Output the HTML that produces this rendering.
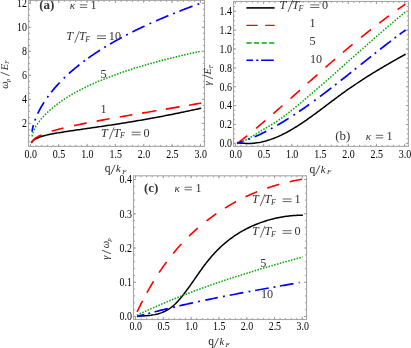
<!DOCTYPE html>
<html><head><meta charset="utf-8"><title>fig</title>
<style>html,body{margin:0;padding:0;background:#fff;}svg{display:block;}text{font-family:"Liberation Serif",serif;}.i{font-style:italic}</style></head><body>
<svg width="411" height="348" viewBox="0 0 411 348" style="will-change:transform">
<rect width="411" height="348" fill="#fff"/>
<g fill="none" stroke="#a8a8a8" stroke-width="1.1">
<rect x="28.5" y="0.4" width="176.00" height="146.00"/>
<path stroke="#9a9a9a" stroke-width="0.9" d="M30.40,146.4v-1.6M30.40,0.4v1.6M36.07,146.4v-1.6M36.07,0.4v1.6M41.73,146.4v-1.6M41.73,0.4v1.6M47.40,146.4v-1.6M47.40,0.4v1.6M53.07,146.4v-1.6M53.07,0.4v1.6M58.73,146.4v-1.6M58.73,0.4v1.6M64.40,146.4v-1.6M64.40,0.4v1.6M70.07,146.4v-1.6M70.07,0.4v1.6M75.74,146.4v-1.6M75.74,0.4v1.6M81.40,146.4v-1.6M81.40,0.4v1.6M87.07,146.4v-1.6M87.07,0.4v1.6M92.74,146.4v-1.6M92.74,0.4v1.6M98.40,146.4v-1.6M98.40,0.4v1.6M104.07,146.4v-1.6M104.07,0.4v1.6M109.74,146.4v-1.6M109.74,0.4v1.6M115.41,146.4v-1.6M115.41,0.4v1.6M121.07,146.4v-1.6M121.07,0.4v1.6M126.74,146.4v-1.6M126.74,0.4v1.6M132.41,146.4v-1.6M132.41,0.4v1.6M138.07,146.4v-1.6M138.07,0.4v1.6M143.74,146.4v-1.6M143.74,0.4v1.6M149.41,146.4v-1.6M149.41,0.4v1.6M155.07,146.4v-1.6M155.07,0.4v1.6M160.74,146.4v-1.6M160.74,0.4v1.6M166.41,146.4v-1.6M166.41,0.4v1.6M172.08,146.4v-1.6M172.08,0.4v1.6M177.74,146.4v-1.6M177.74,0.4v1.6M183.41,146.4v-1.6M183.41,0.4v1.6M189.08,146.4v-1.6M189.08,0.4v1.6M194.74,146.4v-1.6M194.74,0.4v1.6M200.41,146.4v-1.6M200.41,0.4v1.6M30.40,146.4v-2.6M30.40,0.4v2.6M58.73,146.4v-2.6M58.73,0.4v2.6M87.07,146.4v-2.6M87.07,0.4v2.6M115.41,146.4v-2.6M115.41,0.4v2.6M143.74,146.4v-2.6M143.74,0.4v2.6M172.08,146.4v-2.6M172.08,0.4v2.6M200.41,146.4v-2.6M200.41,0.4v2.6M28.5,141.40h1.6M204.5,141.40h-1.6M28.5,135.39h1.6M204.5,135.39h-1.6M28.5,129.38h1.6M204.5,129.38h-1.6M28.5,123.38h1.6M204.5,123.38h-1.6M28.5,117.38h1.6M204.5,117.38h-1.6M28.5,111.37h1.6M204.5,111.37h-1.6M28.5,105.37h1.6M204.5,105.37h-1.6M28.5,99.36h1.6M204.5,99.36h-1.6M28.5,93.36h1.6M204.5,93.36h-1.6M28.5,87.35h1.6M204.5,87.35h-1.6M28.5,81.35h1.6M204.5,81.35h-1.6M28.5,75.34h1.6M204.5,75.34h-1.6M28.5,69.34h1.6M204.5,69.34h-1.6M28.5,63.33h1.6M204.5,63.33h-1.6M28.5,57.33h1.6M204.5,57.33h-1.6M28.5,51.32h1.6M204.5,51.32h-1.6M28.5,45.32h1.6M204.5,45.32h-1.6M28.5,39.31h1.6M204.5,39.31h-1.6M28.5,33.31h1.6M204.5,33.31h-1.6M28.5,27.30h1.6M204.5,27.30h-1.6M28.5,21.30h1.6M204.5,21.30h-1.6M28.5,15.29h1.6M204.5,15.29h-1.6M28.5,9.28h1.6M204.5,9.28h-1.6M28.5,3.28h1.6M204.5,3.28h-1.6M28.5,123.38h2.6M204.5,123.38h-2.6M28.5,99.36h2.6M204.5,99.36h-2.6M28.5,75.34h2.6M204.5,75.34h-2.6M28.5,51.32h2.6M204.5,51.32h-2.6M28.5,27.30h2.6M204.5,27.30h-2.6M28.5,3.28h2.6M204.5,3.28h-2.6"/>
</g>
<g font-size="11.6" fill="#000">
<text transform="translate(30.70,157.90) scale(0.86,1)" text-anchor="middle">0.0</text>
<text transform="translate(59.03,157.90) scale(0.86,1)" text-anchor="middle">0.5</text>
<text transform="translate(87.37,157.90) scale(0.86,1)" text-anchor="middle">1.0</text>
<text transform="translate(115.70,157.90) scale(0.86,1)" text-anchor="middle">1.5</text>
<text transform="translate(144.04,157.90) scale(0.86,1)" text-anchor="middle">2.0</text>
<text transform="translate(172.38,157.90) scale(0.86,1)" text-anchor="middle">2.5</text>
<text transform="translate(200.71,157.90) scale(0.86,1)" text-anchor="middle">3.0</text>
<text transform="translate(26.90,127.28) scale(0.86,1)" text-anchor="end">2</text>
<text transform="translate(26.90,103.26) scale(0.86,1)" text-anchor="end">4</text>
<text transform="translate(26.90,79.24) scale(0.86,1)" text-anchor="end">6</text>
<text transform="translate(26.90,55.22) scale(0.86,1)" text-anchor="end">8</text>
<text transform="translate(26.90,31.20) scale(0.86,1)" text-anchor="end">10</text>
<text transform="translate(26.90,7.18) scale(0.86,1)" text-anchor="end">12</text>
</g>
<g fill="none" stroke="#a8a8a8" stroke-width="1.1">
<rect x="233.5" y="1.45" width="174.90" height="144.95"/>
<path stroke="#9a9a9a" stroke-width="0.9" d="M235.40,146.4v-1.6M235.40,1.45v1.6M241.04,146.4v-1.6M241.04,1.45v1.6M246.69,146.4v-1.6M246.69,1.45v1.6M252.33,146.4v-1.6M252.33,1.45v1.6M257.97,146.4v-1.6M257.97,1.45v1.6M263.62,146.4v-1.6M263.62,1.45v1.6M269.26,146.4v-1.6M269.26,1.45v1.6M274.90,146.4v-1.6M274.90,1.45v1.6M280.54,146.4v-1.6M280.54,1.45v1.6M286.19,146.4v-1.6M286.19,1.45v1.6M291.83,146.4v-1.6M291.83,1.45v1.6M297.47,146.4v-1.6M297.47,1.45v1.6M303.12,146.4v-1.6M303.12,1.45v1.6M308.76,146.4v-1.6M308.76,1.45v1.6M314.40,146.4v-1.6M314.40,1.45v1.6M320.05,146.4v-1.6M320.05,1.45v1.6M325.69,146.4v-1.6M325.69,1.45v1.6M331.33,146.4v-1.6M331.33,1.45v1.6M336.97,146.4v-1.6M336.97,1.45v1.6M342.62,146.4v-1.6M342.62,1.45v1.6M348.26,146.4v-1.6M348.26,1.45v1.6M353.90,146.4v-1.6M353.90,1.45v1.6M359.55,146.4v-1.6M359.55,1.45v1.6M365.19,146.4v-1.6M365.19,1.45v1.6M370.83,146.4v-1.6M370.83,1.45v1.6M376.48,146.4v-1.6M376.48,1.45v1.6M382.12,146.4v-1.6M382.12,1.45v1.6M387.76,146.4v-1.6M387.76,1.45v1.6M393.40,146.4v-1.6M393.40,1.45v1.6M399.05,146.4v-1.6M399.05,1.45v1.6M404.69,146.4v-1.6M404.69,1.45v1.6M235.40,146.4v-2.6M235.40,1.45v2.6M263.62,146.4v-2.6M263.62,1.45v2.6M291.83,146.4v-2.6M291.83,1.45v2.6M320.05,146.4v-2.6M320.05,1.45v2.6M348.26,146.4v-2.6M348.26,1.45v2.6M376.48,146.4v-2.6M376.48,1.45v2.6M404.69,146.4v-2.6M404.69,1.45v2.6M233.5,143.30h1.6M408.4,143.30h-1.6M233.5,138.59h1.6M408.4,138.59h-1.6M233.5,133.87h1.6M408.4,133.87h-1.6M233.5,129.16h1.6M408.4,129.16h-1.6M233.5,124.44h1.6M408.4,124.44h-1.6M233.5,119.73h1.6M408.4,119.73h-1.6M233.5,115.01h1.6M408.4,115.01h-1.6M233.5,110.30h1.6M408.4,110.30h-1.6M233.5,105.58h1.6M408.4,105.58h-1.6M233.5,100.87h1.6M408.4,100.87h-1.6M233.5,96.15h1.6M408.4,96.15h-1.6M233.5,91.44h1.6M408.4,91.44h-1.6M233.5,86.72h1.6M408.4,86.72h-1.6M233.5,82.01h1.6M408.4,82.01h-1.6M233.5,77.29h1.6M408.4,77.29h-1.6M233.5,72.58h1.6M408.4,72.58h-1.6M233.5,67.86h1.6M408.4,67.86h-1.6M233.5,63.15h1.6M408.4,63.15h-1.6M233.5,58.43h1.6M408.4,58.43h-1.6M233.5,53.72h1.6M408.4,53.72h-1.6M233.5,49.00h1.6M408.4,49.00h-1.6M233.5,44.29h1.6M408.4,44.29h-1.6M233.5,39.57h1.6M408.4,39.57h-1.6M233.5,34.86h1.6M408.4,34.86h-1.6M233.5,30.14h1.6M408.4,30.14h-1.6M233.5,25.43h1.6M408.4,25.43h-1.6M233.5,20.71h1.6M408.4,20.71h-1.6M233.5,16.00h1.6M408.4,16.00h-1.6M233.5,11.28h1.6M408.4,11.28h-1.6M233.5,6.56h1.6M408.4,6.56h-1.6M233.5,143.30h2.6M408.4,143.30h-2.6M233.5,124.44h2.6M408.4,124.44h-2.6M233.5,105.58h2.6M408.4,105.58h-2.6M233.5,86.72h2.6M408.4,86.72h-2.6M233.5,67.86h2.6M408.4,67.86h-2.6M233.5,49.00h2.6M408.4,49.00h-2.6M233.5,30.14h2.6M408.4,30.14h-2.6M233.5,11.28h2.6M408.4,11.28h-2.6"/>
</g>
<g font-size="11.6" fill="#000">
<text transform="translate(235.70,157.90) scale(0.86,1)" text-anchor="middle">0.0</text>
<text transform="translate(263.92,157.90) scale(0.86,1)" text-anchor="middle">0.5</text>
<text transform="translate(292.13,157.90) scale(0.86,1)" text-anchor="middle">1.0</text>
<text transform="translate(320.35,157.90) scale(0.86,1)" text-anchor="middle">1.5</text>
<text transform="translate(348.56,157.90) scale(0.86,1)" text-anchor="middle">2.0</text>
<text transform="translate(376.78,157.90) scale(0.86,1)" text-anchor="middle">2.5</text>
<text transform="translate(404.99,157.90) scale(0.86,1)" text-anchor="middle">3.0</text>
<text transform="translate(231.90,147.20) scale(0.86,1)" text-anchor="end">0.0</text>
<text transform="translate(231.90,128.34) scale(0.86,1)" text-anchor="end">0.2</text>
<text transform="translate(231.90,109.48) scale(0.86,1)" text-anchor="end">0.4</text>
<text transform="translate(231.90,90.62) scale(0.86,1)" text-anchor="end">0.6</text>
<text transform="translate(231.90,71.76) scale(0.86,1)" text-anchor="end">0.8</text>
<text transform="translate(231.90,52.90) scale(0.86,1)" text-anchor="end">1.0</text>
<text transform="translate(231.90,34.04) scale(0.86,1)" text-anchor="end">1.2</text>
<text transform="translate(231.90,15.18) scale(0.86,1)" text-anchor="end">1.4</text>
</g>
<g fill="none" stroke="#a8a8a8" stroke-width="1.1">
<rect x="133.5" y="175.8" width="173.05" height="143.70"/>
<path stroke="#9a9a9a" stroke-width="0.9" d="M135.50,319.5v-1.6M135.50,175.8v1.6M141.06,319.5v-1.6M141.06,175.8v1.6M146.63,319.5v-1.6M146.63,175.8v1.6M152.19,319.5v-1.6M152.19,175.8v1.6M157.75,319.5v-1.6M157.75,175.8v1.6M163.31,319.5v-1.6M163.31,175.8v1.6M168.88,319.5v-1.6M168.88,175.8v1.6M174.44,319.5v-1.6M174.44,175.8v1.6M180.00,319.5v-1.6M180.00,175.8v1.6M185.57,319.5v-1.6M185.57,175.8v1.6M191.13,319.5v-1.6M191.13,175.8v1.6M196.69,319.5v-1.6M196.69,175.8v1.6M202.26,319.5v-1.6M202.26,175.8v1.6M207.82,319.5v-1.6M207.82,175.8v1.6M213.38,319.5v-1.6M213.38,175.8v1.6M218.94,319.5v-1.6M218.94,175.8v1.6M224.51,319.5v-1.6M224.51,175.8v1.6M230.07,319.5v-1.6M230.07,175.8v1.6M235.63,319.5v-1.6M235.63,175.8v1.6M241.20,319.5v-1.6M241.20,175.8v1.6M246.76,319.5v-1.6M246.76,175.8v1.6M252.32,319.5v-1.6M252.32,175.8v1.6M257.89,319.5v-1.6M257.89,175.8v1.6M263.45,319.5v-1.6M263.45,175.8v1.6M269.01,319.5v-1.6M269.01,175.8v1.6M274.58,319.5v-1.6M274.58,175.8v1.6M280.14,319.5v-1.6M280.14,175.8v1.6M285.70,319.5v-1.6M285.70,175.8v1.6M291.26,319.5v-1.6M291.26,175.8v1.6M296.83,319.5v-1.6M296.83,175.8v1.6M302.39,319.5v-1.6M302.39,175.8v1.6M135.50,319.5v-2.6M135.50,175.8v2.6M163.31,319.5v-2.6M163.31,175.8v2.6M191.13,319.5v-2.6M191.13,175.8v2.6M218.94,319.5v-2.6M218.94,175.8v2.6M246.76,319.5v-2.6M246.76,175.8v2.6M274.58,319.5v-2.6M274.58,175.8v2.6M302.39,319.5v-2.6M302.39,175.8v2.6M133.5,316.50h1.6M306.55,316.50h-1.6M133.5,309.65h1.6M306.55,309.65h-1.6M133.5,302.80h1.6M306.55,302.80h-1.6M133.5,295.95h1.6M306.55,295.95h-1.6M133.5,289.10h1.6M306.55,289.10h-1.6M133.5,282.25h1.6M306.55,282.25h-1.6M133.5,275.40h1.6M306.55,275.40h-1.6M133.5,268.55h1.6M306.55,268.55h-1.6M133.5,261.70h1.6M306.55,261.70h-1.6M133.5,254.85h1.6M306.55,254.85h-1.6M133.5,248.00h1.6M306.55,248.00h-1.6M133.5,241.15h1.6M306.55,241.15h-1.6M133.5,234.30h1.6M306.55,234.30h-1.6M133.5,227.45h1.6M306.55,227.45h-1.6M133.5,220.60h1.6M306.55,220.60h-1.6M133.5,213.75h1.6M306.55,213.75h-1.6M133.5,206.90h1.6M306.55,206.90h-1.6M133.5,200.05h1.6M306.55,200.05h-1.6M133.5,193.20h1.6M306.55,193.20h-1.6M133.5,186.35h1.6M306.55,186.35h-1.6M133.5,179.50h1.6M306.55,179.50h-1.6M133.5,316.50h2.6M306.55,316.50h-2.6M133.5,282.25h2.6M306.55,282.25h-2.6M133.5,248.00h2.6M306.55,248.00h-2.6M133.5,213.75h2.6M306.55,213.75h-2.6M133.5,179.50h2.6M306.55,179.50h-2.6"/>
</g>
<g font-size="11.6" fill="#000">
<text transform="translate(135.80,330.40) scale(0.86,1)" text-anchor="middle">0.0</text>
<text transform="translate(163.62,330.40) scale(0.86,1)" text-anchor="middle">0.5</text>
<text transform="translate(191.43,330.40) scale(0.86,1)" text-anchor="middle">1.0</text>
<text transform="translate(219.25,330.40) scale(0.86,1)" text-anchor="middle">1.5</text>
<text transform="translate(247.06,330.40) scale(0.86,1)" text-anchor="middle">2.0</text>
<text transform="translate(274.88,330.40) scale(0.86,1)" text-anchor="middle">2.5</text>
<text transform="translate(302.69,330.40) scale(0.86,1)" text-anchor="middle">3.0</text>
<text transform="translate(131.90,320.40) scale(0.86,1)" text-anchor="end">0.0</text>
<text transform="translate(131.90,286.15) scale(0.86,1)" text-anchor="end">0.1</text>
<text transform="translate(131.90,251.90) scale(0.86,1)" text-anchor="end">0.2</text>
<text transform="translate(131.90,217.65) scale(0.86,1)" text-anchor="end">0.3</text>
<text transform="translate(131.90,183.40) scale(0.86,1)" text-anchor="end">0.4</text>
</g>
<g fill="none">
<path d="M31.40,143.11 31.95,141.98 32.73,140.99 33.63,140.16 34.64,139.43 35.74,138.78 36.88,138.21 38.04,137.70 39.18,137.26 40.41,136.82 41.59,136.45 42.84,136.07 44.01,135.75 45.24,135.43 46.52,135.12 47.86,134.81 49.08,134.55 50.33,134.28 51.64,134.02 52.98,133.76 54.17,133.54 55.39,133.31 56.64,133.09 57.92,132.87 59.23,132.65 60.57,132.43 61.95,132.21 63.35,131.98 64.55,131.79 65.76,131.61 67.00,131.42 68.26,131.23 69.55,131.04 70.85,130.84 72.18,130.65 73.52,130.45 74.89,130.25 76.28,130.05 77.70,129.85 79.13,129.64 80.59,129.43 82.07,129.22 83.27,129.05 84.48,128.88 85.70,128.70 86.94,128.53 88.20,128.35 89.47,128.17 90.75,127.98 92.04,127.80 93.35,127.61 94.68,127.42 96.01,127.22 97.37,127.03 98.73,126.83 100.11,126.63 101.50,126.42 102.91,126.22 104.33,126.01 105.77,125.79 107.22,125.58 108.68,125.36 110.16,125.13 111.65,124.91 113.15,124.68 114.67,124.44 116.20,124.20 117.75,123.96 119.31,123.72 120.88,123.47 122.07,123.28 123.27,123.09 124.48,122.90 125.69,122.70 126.91,122.50 128.14,122.30 129.38,122.10 130.62,121.89 131.87,121.68 133.13,121.47 134.40,121.26 135.68,121.05 136.96,120.83 138.25,120.61 139.55,120.38 140.86,120.16 142.17,119.93 143.50,119.70 144.83,119.46 146.17,119.22 147.51,118.98 148.87,118.74 150.23,118.50 151.60,118.25 152.98,117.99 154.36,117.74 155.76,117.48 157.16,117.22 158.57,116.96 159.98,116.69 161.41,116.42 162.84,116.15 164.28,115.87 165.73,115.59 167.19,115.31 168.65,115.02 170.12,114.73 171.60,114.44 173.09,114.14 174.58,113.84 176.09,113.53 177.60,113.23 179.12,112.92 180.64,112.60 182.18,112.28 183.72,111.96 185.27,111.64 186.83,111.31 188.39,110.98 189.97,110.64 191.55,110.30 193.14,109.95 194.73,109.61 196.34,109.25 197.95,108.90 199.57,108.54 201.20,108.17" stroke="#000" stroke-width="1.5"/>
<path d="M31.40,142.86 31.91,141.74 32.63,140.70 33.44,139.81 34.34,139.00 35.30,138.25 36.39,137.52 37.50,136.86 38.60,136.26 39.78,135.66 40.92,135.13 41.60,134.83M51.70,131.22 52.98,130.84 54.17,130.49 55.39,130.15 56.64,129.80 57.92,129.46 59.23,129.11 60.57,128.77 61.95,128.42 63.11,128.13 63.40,128.06M74.10,125.61 75.45,125.32 76.85,125.03 78.27,124.73 79.71,124.43 81.18,124.13 82.37,123.89 83.57,123.65 84.78,123.40 86.01,123.16 86.60,123.05M96.70,121.11 98.05,120.86 99.42,120.61 100.81,120.35 102.21,120.09 103.62,119.84 105.05,119.58 106.49,119.32 107.95,119.05 109.42,118.79 109.60,118.76M119.70,116.97 120.88,116.77 122.07,116.56 123.27,116.35 124.48,116.14 125.69,115.93 126.91,115.72 128.14,115.51 129.38,115.30 130.62,115.08 131.87,114.87 132.30,114.80M142.10,113.13 143.50,112.89 144.83,112.66 146.17,112.44 147.51,112.21 148.87,111.98 150.23,111.75 151.60,111.52 152.98,111.28 154.36,111.05 155.76,110.81 156.50,110.69M165.80,109.12 167.19,108.89 168.65,108.64 170.12,108.39 171.60,108.14 173.09,107.89 174.58,107.64 176.09,107.38 177.60,107.13 179.12,106.87 179.60,106.79M189.10,105.18 190.49,104.94 192.08,104.68 193.67,104.40 195.27,104.13 196.88,103.86 198.49,103.58 200.11,103.31 201.20,103.12" stroke="#ff0000" stroke-width="1.6"/>
<path transform="scale(0.86,1)" d="M37.21,136.48 37.45,135.43 37.76,134.36 38.09,133.41 38.46,132.45 38.88,131.48 39.35,130.50 39.87,129.51 40.44,128.51 40.97,127.64 41.54,126.76 42.14,125.88 42.78,124.99 43.45,124.10 44.16,123.20 44.91,122.30 45.69,121.39 46.37,120.62 47.07,119.86 47.80,119.09 48.56,118.32 49.34,117.55 50.15,116.77 50.98,115.99 51.83,115.21 52.72,114.43 53.62,113.65 54.55,112.86 55.51,112.08 56.30,111.45 57.10,110.82 57.91,110.18 58.74,109.55 59.59,108.92 60.46,108.29 61.34,107.65 62.24,107.02 63.15,106.39 64.08,105.76 65.02,105.12 65.98,104.49 66.96,103.86 67.96,103.23 68.97,102.60 69.99,101.97 71.03,101.34 72.09,100.71 73.17,100.08 74.26,99.45 75.36,98.83 76.49,98.20 77.63,97.58 78.78,96.95 79.95,96.33 80.84,95.87 81.74,95.41 82.65,94.94 83.56,94.48 84.49,94.02 85.42,93.56 86.37,93.10 87.32,92.64 88.28,92.19 89.25,91.73 90.23,91.27 91.22,90.82 92.22,90.37 93.23,89.92 94.24,89.46 95.27,89.01 96.30,88.56 97.35,88.12 98.40,87.67 99.46,87.22 100.53,86.78 101.61,86.33 102.70,85.89 103.80,85.45 104.90,85.01 106.02,84.57 107.15,84.13 108.28,83.69 109.42,83.25 110.58,82.82 111.74,82.38 112.91,81.95 114.09,81.52 115.28,81.09 116.47,80.65 117.68,80.23 118.90,79.80 120.12,79.37 121.36,78.94 122.60,78.52 123.85,78.09 125.11,77.67 126.38,77.25 127.66,76.83 128.95,76.41 130.25,75.99 131.56,75.57 132.87,75.15 134.20,74.74 135.53,74.32 136.87,73.91 138.23,73.49 139.59,73.08 140.96,72.67 142.34,72.26 143.72,71.85 145.12,71.45 146.53,71.04 147.94,70.64 149.37,70.23 150.80,69.83 152.25,69.43 153.21,69.16 154.18,68.89 155.16,68.63 156.14,68.36 157.12,68.10 158.11,67.83 159.10,67.57 160.09,67.30 161.09,67.04 162.10,66.78 163.10,66.52 164.12,66.25 165.13,65.99 166.15,65.73 167.17,65.47 168.20,65.21 169.23,64.95 170.27,64.69 171.31,64.44 172.35,64.18 173.40,63.92 174.45,63.66 175.51,63.41 176.57,63.15 177.63,62.90 178.70,62.64 179.77,62.39 180.85,62.13 181.93,61.88 183.01,61.63 184.10,61.38 185.19,61.12 186.29,60.87 187.39,60.62 188.49,60.37 189.60,60.12 190.71,59.87 191.83,59.62 192.95,59.38 194.07,59.13 195.20,58.88 196.33,58.64 197.47,58.39 198.61,58.14 199.75,57.90 200.90,57.66 202.06,57.41 203.21,57.17 204.37,56.92 205.54,56.68 206.71,56.44 207.88,56.20 209.06,55.96 210.24,55.72 211.42,55.48 212.61,55.24 213.80,55.00 215.00,54.76 216.20,54.53 217.41,54.29 218.62,54.05 219.83,53.82 221.05,53.58 222.27,53.35 223.49,53.11 224.72,52.88 225.96,52.64 227.19,52.41 228.43,52.18 229.68,51.95 230.93,51.72 232.18,51.49 233.44,51.26 234.07,51.14" stroke="#00aa00" stroke-width="1.55" stroke-dasharray="1.75 1.6"/>
<path d="M32.01,131.60 32.20,130.40 32.45,129.09 32.74,127.74 33.02,126.58 33.33,125.39 33.41,125.10M37.72,113.70 38.25,112.59 38.79,111.49 39.36,110.39 39.95,109.27 40.55,108.16 41.19,107.03 41.84,105.91 42.51,104.77 43.21,103.64 43.92,102.50 44.11,102.20M51.20,92.29 52.08,91.19 53.03,90.03 53.80,89.10 54.59,88.17 55.39,87.25 56.21,86.32 57.04,85.39 57.88,84.47 58.74,83.54 59.61,82.62 59.70,82.52M68.90,73.57 69.83,72.74 70.86,71.83 71.91,70.91 72.96,70.00 74.04,69.09 75.12,68.19 76.22,67.28 77.34,66.37 78.47,65.47 79.40,64.73M88.20,58.13 89.23,57.40 90.50,56.51 91.78,55.62 93.07,54.74 94.38,53.86 95.70,52.97 97.03,52.10 98.04,51.44 99.06,50.78 100.00,50.18M110.00,44.07 111.12,43.41 112.24,42.77 113.36,42.12 114.49,41.48 115.62,40.84 116.76,40.20 117.92,39.56 119.07,38.93 120.24,38.29 121.41,37.66 121.90,37.39M132.40,31.95 133.58,31.36 134.84,30.74 136.11,30.11 137.38,29.49 138.66,28.87 139.95,28.25 141.25,27.63 142.56,27.01 143.87,26.40 144.50,26.10M156.10,20.85 157.43,20.27 158.83,19.67 160.23,19.06 161.65,18.46 163.07,17.85 164.50,17.25 165.93,16.65 167.38,16.04 168.40,15.62M179.40,11.19 180.73,10.67 182.25,10.07 183.78,9.48 185.32,8.89 186.86,8.30 188.41,7.71 189.97,7.12 191.54,6.53 192.50,6.17M34.89,120.49 35.56,118.71M47.24,97.57 48.35,96.03M63.72,78.44 65.08,77.12M83.44,61.62 84.96,60.49M104.29,47.49 105.91,46.50M126.16,35.14 127.84,34.27M149.43,23.83 151.17,23.05M173.12,13.69 174.88,12.98M197.51,4.33 199.29,3.68" stroke="#0000ff" stroke-width="1.7"/>
<path d="M237.10,142.56 238.51,142.79 239.91,142.98 241.32,143.15 242.73,143.28 244.13,143.37 245.54,143.44 246.95,143.47 248.35,143.48 249.76,143.45 251.17,143.39 252.57,143.30 253.98,143.18 255.38,143.02 256.79,142.84 258.20,142.63 259.60,142.39 261.01,142.12 262.42,141.81 263.82,141.48 265.23,141.12 266.64,140.74 268.04,140.32 269.45,139.87 270.86,139.40 272.26,138.90 273.39,138.48 274.51,138.04 275.64,137.59 276.76,137.12 277.89,136.64 279.01,136.14 280.14,135.62 281.26,135.09 282.39,134.55 283.51,133.99 284.64,133.41 285.77,132.83 286.89,132.23 288.02,131.62 289.14,130.99 290.27,130.35 291.39,129.70 292.52,129.04 293.64,128.37 294.77,127.68 295.89,126.99 297.02,126.28 298.14,125.57 299.27,124.84 300.39,124.11 301.52,123.36 302.64,122.61 303.77,121.85 304.89,121.08 306.02,120.31 307.14,119.52 308.27,118.73 309.39,117.94 310.52,117.13 311.65,116.32 312.77,115.51 313.90,114.69 315.02,113.87 316.15,113.04 317.27,112.21 318.40,111.37 319.52,110.54 320.65,109.70 321.77,108.85 322.90,108.01 324.02,107.16 325.15,106.31 326.27,105.46 327.40,104.61 328.52,103.77 329.65,102.92 330.77,102.07 331.90,101.22 333.02,100.37 334.15,99.53 335.27,98.69 336.40,97.85 337.52,97.01 338.65,96.18 339.78,95.35 340.90,94.52 342.03,93.70 343.15,92.88 344.28,92.07 345.40,91.26 346.53,90.46 347.65,89.67 348.78,88.88 349.90,88.10 351.03,87.32 352.15,86.54 353.28,85.77 354.40,85.01 355.53,84.25 356.65,83.50 357.78,82.75 358.90,82.01 360.03,81.27 361.15,80.53 362.28,79.80 363.40,79.08 364.53,78.35 365.66,77.64 366.78,76.92 367.91,76.21 369.03,75.51 370.16,74.81 371.28,74.11 372.41,73.42 373.53,72.72 374.66,72.04 375.78,71.35 376.91,70.67 378.03,70.00 379.16,69.32 380.28,68.65 381.41,67.98 382.53,67.32 383.66,66.66 384.78,66.00 385.91,65.34 387.03,64.69 388.16,64.03 389.28,63.38 390.41,62.74 391.53,62.09 392.66,61.45 393.79,60.81 394.91,60.17 396.04,59.53 397.16,58.89 398.29,58.26 399.41,57.63 400.54,57.00 401.66,56.37 402.79,55.74 403.91,55.11 405.04,54.48 405.60,54.17" stroke="#000" stroke-width="1.5"/>
<path d="M237.10,143.63 238.22,142.76 239.35,141.88 240.47,141.00 241.59,140.11 242.72,139.23 243.84,138.33 244.96,137.43 246.09,136.53 247.21,135.63 247.30,135.55M256.10,128.32 257.04,127.54 258.16,126.60 259.28,125.65 260.41,124.71 261.53,123.76 262.65,122.80 263.78,121.85 264.90,120.89 265.30,120.55M273.30,113.65 274.45,112.65 275.57,111.67 276.69,110.69 277.82,109.70 278.94,108.72 280.06,107.73 281.19,106.74 282.31,105.75 282.40,105.67M290.50,98.50 291.58,97.54 292.70,96.54 293.82,95.54 294.95,94.54 296.07,93.54 297.19,92.54 298.31,91.54 299.44,90.54 299.90,90.12M307.60,83.26 308.70,82.27 309.83,81.27 310.95,80.28 312.07,79.28 313.20,78.28 314.32,77.28 315.44,76.29 316.57,75.29 317.40,74.56M325.50,67.43 326.68,66.40 327.80,65.42 328.92,64.44 330.05,63.47 331.17,62.49 332.29,61.52 333.41,60.55 334.54,59.58 335.00,59.19M343.00,52.36 344.09,51.44 345.21,50.50 346.33,49.55 347.45,48.61 348.58,47.67 349.70,46.73 350.82,45.80 351.95,44.87 352.60,44.33M361.00,37.45 362.06,36.60 363.18,35.69 364.30,34.79 365.43,33.89 366.55,33.00 367.67,32.10 368.80,31.22 369.92,30.33 371.00,29.48M379.20,23.13 380.31,22.28 381.43,21.43 382.56,20.58 383.68,19.74 384.80,18.90 385.92,18.06 387.05,17.22 388.17,16.39 389.00,15.78M397.60,9.57 398.84,8.69 399.96,7.90 401.09,7.11 402.21,6.33 403.33,5.55 404.46,4.78 405.30,4.20" stroke="#ff0000" stroke-width="1.6"/>
<path transform="scale(0.86,1)" d="M275.70,143.02 277.00,142.83 278.31,142.57 279.29,142.33 280.27,142.06 281.25,141.77 282.22,141.44 283.20,141.09 284.18,140.71 285.16,140.32 286.14,139.90 287.12,139.46 288.10,139.00 289.08,138.53 290.06,138.04 291.03,137.55 292.01,137.04 292.99,136.52 293.97,136.00 294.95,135.47 295.93,134.94 296.91,134.41 297.89,133.88 298.87,133.35 299.85,132.82 300.82,132.31 301.80,131.79 302.78,131.28 303.76,130.78 304.74,130.28 305.72,129.78 306.70,129.28 307.68,128.78 308.66,128.29 309.63,127.79 310.61,127.30 311.59,126.80 312.57,126.30 313.55,125.79 314.53,125.29 315.51,124.78 316.49,124.26 317.47,123.74 318.45,123.21 319.42,122.67 320.40,122.12 321.38,121.57 322.36,121.01 323.34,120.44 324.32,119.86 325.30,119.27 326.28,118.68 327.26,118.08 328.24,117.47 329.21,116.85 330.19,116.23 331.17,115.60 332.15,114.96 333.13,114.32 334.11,113.68 335.09,113.03 336.07,112.37 337.05,111.71 338.02,111.04 339.00,110.37 339.98,109.69 340.96,109.01 341.94,108.33 342.92,107.65 343.90,106.96 344.88,106.26 345.86,105.57 346.84,104.87 347.81,104.18 348.79,103.47 349.77,102.77 350.75,102.07 351.73,101.36 352.71,100.66 353.69,99.95 354.67,99.24 355.65,98.53 356.62,97.82 357.60,97.10 358.58,96.39 359.56,95.67 360.54,94.95 361.52,94.23 362.50,93.51 363.48,92.79 364.46,92.07 365.44,91.34 366.41,90.62 367.39,89.89 368.37,89.16 369.35,88.43 370.33,87.71 371.31,86.97 372.29,86.24 373.27,85.51 374.25,84.78 375.22,84.04 376.20,83.31 377.18,82.57 378.16,81.83 379.14,81.10 380.12,80.36 381.10,79.62 382.08,78.88 383.06,78.14 384.04,77.40 385.01,76.65 385.99,75.91 386.97,75.17 387.95,74.42 388.93,73.68 389.91,72.94 390.89,72.19 391.87,71.44 392.85,70.70 393.83,69.95 394.80,69.20 395.78,68.46 396.76,67.71 397.74,66.96 398.72,66.21 399.70,65.47 400.68,64.72 401.66,63.97 402.64,63.22 403.61,62.47 404.59,61.72 405.57,60.97 406.55,60.23 407.53,59.48 408.51,58.73 409.49,57.98 410.47,57.23 411.45,56.48 412.43,55.73 413.40,54.98 414.38,54.24 415.36,53.49 416.34,52.74 417.32,51.99 418.30,51.24 419.28,50.50 420.26,49.75 421.24,49.01 422.21,48.26 423.19,47.51 424.17,46.77 425.15,46.03 426.13,45.28 427.11,44.54 428.09,43.80 429.07,43.05 430.05,42.31 431.03,41.57 432.00,40.83 432.98,40.09 433.96,39.35 434.94,38.61 435.92,37.88 436.90,37.14 437.88,36.41 438.86,35.67 439.84,34.94 440.82,34.20 441.79,33.47 442.77,32.74 443.75,32.01 444.73,31.28 445.71,30.56 446.69,29.83 447.67,29.10 448.65,28.38 449.63,27.66 450.60,26.93 451.58,26.21 452.56,25.49 453.54,24.78 454.52,24.06 455.50,23.34 456.48,22.63 457.46,21.92 458.44,21.21 459.42,20.50 460.39,19.79 461.37,19.08 462.35,18.37 463.33,17.67 464.31,16.97 465.29,16.27 466.27,15.57 467.25,14.87 468.23,14.18 469.20,13.48 470.18,12.79 471.16,12.10" stroke="#00aa00" stroke-width="1.55" stroke-dasharray="1.75 1.6"/>
<path d="M237.10,143.37 238.51,142.93 239.91,142.47 241.32,142.00 242.73,141.52 242.90,141.46M254.60,136.83 255.95,136.23 257.07,135.72 258.20,135.21 259.32,134.68 260.45,134.15 261.57,133.61 262.70,133.06 263.82,132.50 264.95,131.94 266.07,131.37 266.30,131.25M277.30,125.24 278.45,124.57 279.58,123.92 280.70,123.25 281.83,122.58 282.95,121.90 284.08,121.21 285.20,120.52 286.33,119.82 287.45,119.12 288.58,118.40 288.60,118.39M299.00,111.56 300.11,110.80 301.24,110.03 302.36,109.25 303.49,108.47 304.61,107.69 305.74,106.90 306.86,106.10 307.99,105.30 309.10,104.51M320.00,96.53 321.21,95.62 322.33,94.78 323.46,93.93 324.58,93.07 325.71,92.22 326.84,91.36 327.96,90.50 329.09,89.64 330.21,88.77 331.34,87.90 331.40,87.85M340.80,80.52 341.74,79.77 342.87,78.89 343.99,78.00 345.12,77.11 346.25,76.22 347.37,75.32 348.50,74.43 349.62,73.54 350.75,72.64 351.20,72.28M360.70,64.70 361.72,63.89 362.84,63.00 363.97,62.10 365.09,61.20 366.22,60.31 367.34,59.41 368.47,58.52 369.59,57.62 370.72,56.73 371.10,56.42M380.10,49.33 381.13,48.52 382.25,47.64 383.38,46.77 384.50,45.89 385.63,45.02 386.75,44.15 387.88,43.28 389.00,42.42 390.13,41.55 391.00,40.89M399.60,34.40 400.82,33.50 401.94,32.66 403.07,31.84 404.19,31.01 405.32,30.19 405.60,29.99M248.32,139.44 250.08,138.73M270.87,128.84 272.53,127.93M293.41,115.29 294.99,114.25M314.13,100.87 315.67,99.74M335.05,85.02 336.55,83.85M354.76,69.45 356.24,68.26M374.65,53.61 376.15,52.43M394.54,38.19 396.06,37.05" stroke="#0000ff" stroke-width="1.7"/>
<path d="M136.90,316.38 138.29,316.27 139.67,316.18 141.06,316.09 142.44,316.01 143.83,315.92 145.21,315.83 146.60,315.72 147.99,315.60 149.37,315.46 150.76,315.30 152.14,315.10 153.53,314.88 154.91,314.62 156.30,314.32 157.68,313.97 159.07,313.58 160.46,313.13 161.84,312.62 163.23,312.05 164.34,311.55 165.44,311.00 166.55,310.41 167.66,309.77 168.77,309.07 169.88,308.32 170.99,307.52 172.10,306.66 173.20,305.74 174.31,304.76 175.42,303.71 176.53,302.61 177.64,301.45 178.47,300.55 179.30,299.61 180.13,298.65 180.96,297.67 181.79,296.66 182.63,295.63 183.46,294.57 184.29,293.50 185.12,292.41 185.95,291.31 186.78,290.18 187.61,289.05 188.45,287.90 189.28,286.74 190.11,285.57 190.94,284.39 191.77,283.20 192.60,282.01 193.43,280.82 194.27,279.62 195.10,278.42 195.93,277.22 196.76,276.03 197.59,274.83 198.42,273.64 199.25,272.46 200.09,271.28 200.92,270.11 201.75,268.96 202.58,267.81 203.41,266.68 204.24,265.56 205.07,264.46 205.91,263.37 206.74,262.30 207.57,261.25 208.40,260.22 209.23,259.21 210.06,258.22 210.89,257.24 211.72,256.28 212.56,255.34 213.39,254.41 214.22,253.50 215.05,252.61 215.88,251.73 216.99,250.58 218.10,249.47 219.21,248.38 220.32,247.32 221.42,246.28 222.53,245.27 223.64,244.29 224.75,243.33 225.86,242.39 226.97,241.48 228.08,240.59 229.18,239.73 230.29,238.89 231.40,238.06 232.51,237.27 233.62,236.49 234.73,235.73 235.83,234.99 236.94,234.27 238.05,233.57 239.16,232.89 240.27,232.22 241.38,231.57 242.49,230.94 243.59,230.33 244.70,229.73 245.81,229.14 246.92,228.57 248.03,228.02 249.14,227.48 250.25,226.95 251.35,226.43 252.46,225.93 253.57,225.44 254.68,224.97 255.79,224.50 257.17,223.94 258.56,223.40 259.95,222.88 261.33,222.37 262.72,221.89 264.10,221.42 265.49,220.97 266.87,220.54 268.26,220.13 269.64,219.74 271.03,219.37 272.42,219.01 273.80,218.67 275.19,218.34 276.57,218.04 277.96,217.75 279.34,217.47 280.73,217.22 282.12,216.97 283.50,216.75 284.89,216.54 286.27,216.35 287.66,216.17 289.04,216.00 290.43,215.85 291.81,215.72 293.20,215.60 294.59,215.49 295.97,215.40 297.36,215.32 298.74,215.26 300.13,215.20 301.51,215.17 302.90,215.14" stroke="#000" stroke-width="1.5"/>
<path d="M137.10,311.81 137.65,310.67 138.20,309.53 138.75,308.40 139.30,307.28 139.85,306.17 140.41,305.07 140.96,303.98 141.51,302.90 142.06,301.82 142.50,300.97M146.90,292.75 147.57,291.55 148.39,290.08 149.22,288.62 150.05,287.19 150.87,285.77 151.70,284.38 152.53,282.99 153.35,281.63 153.60,281.22M159.10,272.59 159.96,271.30 160.79,270.08 161.62,268.87 162.44,267.68 163.27,266.50 164.09,265.34 164.92,264.19 165.75,263.06 166.57,261.94 166.60,261.90M173.20,253.43 174.01,252.44 174.84,251.45 175.66,250.47 176.49,249.50 177.32,248.54 178.14,247.59 178.97,246.66 179.80,245.74 180.62,244.82 181.40,243.98M189.10,236.07 189.99,235.21 191.09,234.16 192.19,233.12 193.29,232.10 194.40,231.10 195.50,230.11 196.60,229.14 197.70,228.18 197.80,228.09M206.50,220.96 207.62,220.10 208.72,219.26 209.82,218.43 210.92,217.61 212.02,216.80 213.13,216.00 214.23,215.22 215.33,214.44 216.40,213.69M225.00,208.04 226.07,207.37 227.18,206.70 228.28,206.04 229.38,205.38 230.48,204.74 231.58,204.10 232.68,203.48 233.79,202.86 234.89,202.25 235.99,201.65 236.00,201.65M245.50,196.83 246.73,196.26 247.83,195.75 248.94,195.25 250.04,194.75 251.14,194.27 252.24,193.79 253.62,193.21 255.00,192.63 256.37,192.07 257.20,191.74M267.20,188.06 268.49,187.62 269.87,187.17 271.25,186.73 272.63,186.29 274.00,185.87 275.38,185.46 276.76,185.06 278.14,184.66 279.30,184.34M289.70,181.72 291.08,181.41 292.46,181.11 293.84,180.82 295.21,180.54 296.59,180.26 297.97,179.99 299.35,179.73 300.72,179.47 302.10,179.22" stroke="#ff0000" stroke-width="1.6"/>
<path transform="scale(0.86,1)" d="M159.19,315.26 160.15,314.87 161.12,314.47 162.08,314.08 163.05,313.69 164.01,313.30 164.98,312.91 165.94,312.53 166.91,312.14 167.87,311.76 168.84,311.38 169.80,311.00 170.77,310.62 171.73,310.24 172.70,309.86 173.66,309.49 174.63,309.12 175.59,308.74 176.56,308.37 177.52,308.00 178.49,307.63 179.45,307.27 180.42,306.90 181.38,306.54 182.35,306.18 183.31,305.81 184.28,305.45 185.24,305.09 186.21,304.74 187.17,304.38 188.14,304.02 189.10,303.67 190.07,303.32 191.03,302.97 192.00,302.62 192.96,302.27 193.93,301.92 194.89,301.57 195.86,301.23 196.82,300.88 197.79,300.54 198.75,300.20 199.72,299.86 200.68,299.52 201.65,299.18 202.61,298.85 203.58,298.51 204.54,298.18 205.51,297.84 206.47,297.51 207.44,297.18 208.40,296.85 209.37,296.52 210.33,296.19 211.29,295.87 212.26,295.54 213.22,295.22 214.19,294.89 215.15,294.57 216.12,294.25 217.08,293.93 218.05,293.61 219.01,293.29 219.98,292.98 220.94,292.66 221.91,292.35 222.87,292.03 223.84,291.72 224.80,291.41 225.77,291.10 226.73,290.79 227.70,290.48 228.66,290.17 229.63,289.87 230.59,289.56 231.56,289.26 232.52,288.95 233.49,288.65 234.45,288.35 235.42,288.05 236.38,287.75 237.35,287.45 238.31,287.15 239.28,286.86 240.24,286.56 241.21,286.27 242.17,285.97 243.14,285.68 244.10,285.39 245.07,285.09 246.03,284.80 247.00,284.52 247.96,284.23 248.93,283.94 249.89,283.65 250.86,283.37 251.82,283.08 252.79,282.80 253.75,282.51 254.72,282.23 255.68,281.95 256.65,281.67 257.61,281.39 258.58,281.11 259.54,280.83 260.51,280.55 261.47,280.28 262.44,280.00 263.40,279.72 264.37,279.45 265.33,279.18 266.30,278.90 267.26,278.63 268.23,278.36 269.19,278.09 270.16,277.82 271.12,277.55 272.09,277.28 273.05,277.01 274.02,276.74 274.98,276.48 275.95,276.21 276.91,275.95 277.88,275.68 278.84,275.42 279.81,275.16 280.77,274.89 282.06,274.54 283.35,274.20 284.63,273.85 285.92,273.51 287.21,273.16 288.49,272.82 289.78,272.48 291.07,272.13 292.35,271.79 293.64,271.46 294.93,271.12 296.21,270.78 297.50,270.44 298.79,270.11 300.07,269.78 301.36,269.44 302.65,269.11 303.93,268.78 305.22,268.45 306.51,268.12 307.79,267.79 309.08,267.46 310.37,267.14 311.65,266.81 312.94,266.49 314.23,266.16 315.51,265.84 316.80,265.51 318.09,265.19 319.37,264.87 320.66,264.55 321.95,264.23 323.23,263.91 324.52,263.59 325.81,263.27 327.09,262.96 328.38,262.64 329.67,262.33 330.95,262.01 332.24,261.69 333.53,261.38 334.81,261.07 336.10,260.75 337.39,260.44 338.67,260.13 339.96,259.82 341.25,259.51 342.53,259.20 343.82,258.89 345.11,258.58 346.39,258.27 347.68,257.96 348.97,257.65 350.25,257.34 351.54,257.03 351.86,256.96" stroke="#00aa00" stroke-width="1.55" stroke-dasharray="1.75 1.6"/>
<path d="M137.10,316.52 138.46,316.15 139.81,315.77 141.17,315.40 142.53,315.03 143.88,314.67 144.40,314.53M154.60,311.85 155.82,311.54 157.18,311.20 158.53,310.86 159.89,310.51 161.24,310.18 162.60,309.84 163.96,309.51 165.31,309.17 166.67,308.84 167.80,308.57M179.40,305.83 180.78,305.51 182.13,305.20 183.49,304.89 184.85,304.59 186.20,304.28 187.56,303.98 188.92,303.68 190.27,303.38 191.63,303.08 192.98,302.78 193.00,302.78M205.30,300.15 206.55,299.89 207.91,299.61 209.26,299.33 210.62,299.05 211.97,298.77 213.33,298.49 214.69,298.22 216.04,297.94 217.40,297.67 217.70,297.61M229.70,295.25 230.96,295.00 232.32,294.74 233.68,294.48 235.03,294.22 236.39,293.96 237.75,293.70 239.10,293.45 240.46,293.19 241.82,292.93 243.17,292.68 243.30,292.66M255.10,290.47 256.47,290.22 257.82,289.97 259.18,289.72 260.53,289.48 261.89,289.23 263.25,288.99 264.60,288.74 265.96,288.50 267.32,288.25 268.67,288.01 268.70,288.00M279.90,286.00 281.15,285.78 282.51,285.53 283.87,285.29 285.22,285.05 286.58,284.81 287.93,284.57 289.29,284.33 290.65,284.09 292.00,283.85 293.36,283.61 293.50,283.58M148.28,313.50 150.12,313.01M173.08,307.31 174.92,306.87M198.07,301.68 199.93,301.28M222.97,296.56 224.83,296.20M248.57,291.67 250.43,291.33M273.56,287.13 275.44,286.80M298.66,282.67 299.60,282.50" stroke="#0000ff" stroke-width="1.7"/>
</g>
<g fill="none" stroke-width="1.45">
<path d="M246.4,7.9H274.6" stroke="#000" stroke-width="1.6"/>
<path d="M246.4,25.35H257.7M265.2,25.35H274.6" stroke="#ff0000"/>
<path d="M246.4,42.9H251.6M254.1,42.9H259.1M261.7,42.9H266.7M269.2,42.9H274.3" stroke="#00aa00"/>
<path d="M246.4,60.25H253.1M256.2,60.25H258.4M261.1,60.25H273.8" stroke="#0000ff" stroke-width="1.35"/>
</g>
<g fill="#333" font-size="12.2">
<text x="66.30" y="40.3" class="i">T</text>
<path d="M74.70,42.90L79.40,31.10" stroke="#333" stroke-width="0.75" fill="none"/>
<text x="78.90" y="40.3" class="i">T</text>
<text x="85.30" y="42.00" class="i" font-size="8">F</text>
<path d="M97.00,35.90h9.0M97.00,38.50h9.0" stroke="#333" stroke-width="0.75" fill="none"/>
<text x="108.80" y="40.3">10</text>
</g>
<g fill="#333" font-size="12.2">
<text x="100.90" y="136.6" class="i">T</text>
<path d="M109.30,139.20L114.00,127.40" stroke="#333" stroke-width="0.75" fill="none"/>
<text x="113.50" y="136.6" class="i">T</text>
<text x="119.90" y="138.30" class="i" font-size="8">F</text>
<path d="M131.60,132.20h9.0M131.60,134.80h9.0" stroke="#333" stroke-width="0.75" fill="none"/>
<text x="143.40" y="136.6">0</text>
</g>
<g fill="#333" font-size="12.2">
<text x="279.60" y="9.3" class="i">T</text>
<path d="M288.00,11.90L292.70,0.10" stroke="#333" stroke-width="0.75" fill="none"/>
<text x="292.20" y="9.3" class="i">T</text>
<text x="298.60" y="11.00" class="i" font-size="8">F</text>
<path d="M310.30,4.90h9.0M310.30,7.50h9.0" stroke="#333" stroke-width="0.75" fill="none"/>
<text x="322.10" y="9.3">0</text>
</g>
<g fill="#333" font-size="12.2">
<text x="251.90" y="203.4" class="i">T</text>
<path d="M260.30,206.00L265.00,194.20" stroke="#333" stroke-width="0.75" fill="none"/>
<text x="264.50" y="203.4" class="i">T</text>
<text x="270.90" y="205.10" class="i" font-size="8">F</text>
<path d="M282.60,199.00h9.0M282.60,201.60h9.0" stroke="#333" stroke-width="0.75" fill="none"/>
<text x="294.40" y="203.4">1</text>
</g>
<g fill="#333" font-size="12.2">
<text x="251.90" y="235.1" class="i">T</text>
<path d="M260.30,237.70L265.00,225.90" stroke="#333" stroke-width="0.75" fill="none"/>
<text x="264.50" y="235.1" class="i">T</text>
<text x="270.90" y="236.80" class="i" font-size="8">F</text>
<path d="M282.60,230.70h9.0M282.60,233.30h9.0" stroke="#333" stroke-width="0.75" fill="none"/>
<text x="294.40" y="235.1">0</text>
</g>
<text x="100.4" y="78.0" font-size="12.2" fill="#333">5</text>
<text x="100.4" y="112.9" font-size="12.2" fill="#333">1</text>
<text x="309.6" y="27.0" font-size="12.2" fill="#333">1</text>
<text x="309.6" y="45.4" font-size="12.2" fill="#333">5</text>
<text x="310.0" y="62.5" font-size="12.2" fill="#333">10</text>
<text x="260.2" y="266.5" font-size="12.2" fill="#333">5</text>
<text x="261.0" y="297.9" font-size="12.2" fill="#333">10</text>
<text x="39.2" y="9.2" font-size="13" fill="#333" font-weight="bold">(a)</text>
<text x="69.80000000000001" y="9.2" font-size="11.2" fill="#333" class="i">κ</text>
<path d="M79.80,4.80h7.4M79.80,7.40h7.4" stroke="#333" stroke-width="0.75" fill="none"/>
<text x="90.60" y="9.2" font-size="12.2" fill="#333">1</text>
<text x="335.2" y="139.7" font-size="13" fill="#333" font-weight="normal">(b)</text>
<text x="365.8" y="139.7" font-size="11.2" fill="#333" class="i">κ</text>
<path d="M375.80,135.30h7.4M375.80,137.90h7.4" stroke="#333" stroke-width="0.75" fill="none"/>
<text x="386.60" y="139.7" font-size="12.2" fill="#333">1</text>
<text x="144" y="191.6" font-size="13" fill="#333" font-weight="bold">(c)</text>
<text x="174.6" y="191.6" font-size="11.2" fill="#333" class="i">κ</text>
<path d="M184.60,187.20h7.4M184.60,189.80h7.4" stroke="#333" stroke-width="0.75" fill="none"/>
<text x="195.40" y="191.6" font-size="12.2" fill="#333">1</text>
<g fill="#1c1c1c">
<text x="104.8" y="172.1" font-size="11.5">q</text>
<path d="M110.80,174.20L115.10,164.90" stroke="#1c1c1c" stroke-width="0.75" fill="none"/>
<text x="116.00" y="172.1" font-size="10.5" class="i">k</text>
<text x="122.20" y="173.80" font-size="7" class="i">F</text>
</g>
<g fill="#1c1c1c">
<text x="309.6" y="172.5" font-size="11.5">q</text>
<path d="M315.60,174.60L319.90,165.30" stroke="#1c1c1c" stroke-width="0.75" fill="none"/>
<text x="320.80" y="172.5" font-size="10.5" class="i">k</text>
<text x="327.00" y="174.20" font-size="7" class="i">F</text>
</g>
<g fill="#1c1c1c">
<text x="208.2" y="345.2" font-size="11.5">q</text>
<path d="M214.20,347.30L218.50,338.00" stroke="#1c1c1c" stroke-width="0.75" fill="none"/>
<text x="219.40" y="345.2" font-size="10.5" class="i">k</text>
<text x="225.60" y="346.90" font-size="7" class="i">F</text>
</g>
<g transform="translate(7.6,88.8) rotate(-90)" fill="#1c1c1c">
<text x="0" y="0" font-size="10.5" class="i">ω</text>
<text x="6.9" y="2.0" font-size="6.5" class="i">p</text>
<path d="M13.0,2.0L16.6,-7.0" stroke="#1c1c1c" stroke-width="0.75" fill="none"/>
<text x="18.6" y="0" font-size="10.5" class="i">E</text>
<text x="25.0" y="1.6" font-size="5.5" class="i">F</text>
</g>
<g transform="translate(211.0,85.4) rotate(-90)" fill="#1c1c1c">
<text x="0" y="0" font-size="10.5" class="i">γ</text>
<path d="M6.6,2.0L10.2,-7.0" stroke="#1c1c1c" stroke-width="0.75" fill="none"/>
<text x="10.8" y="0" font-size="10.5" class="i">E</text>
<text x="17.2" y="1.6" font-size="5.5" class="i">F</text>
</g>
<g transform="translate(109.0,259.8) rotate(-90)" fill="#1c1c1c">
<text x="0" y="0" font-size="10.5" class="i">γ</text>
<path d="M6.0,2.0L9.6,-7.0" stroke="#1c1c1c" stroke-width="0.75" fill="none"/>
<text x="11.5" y="0" font-size="10.5" class="i">ω</text>
<text x="18.4" y="2.0" font-size="6.5" class="i">p</text>
</g>
</svg></body></html>
